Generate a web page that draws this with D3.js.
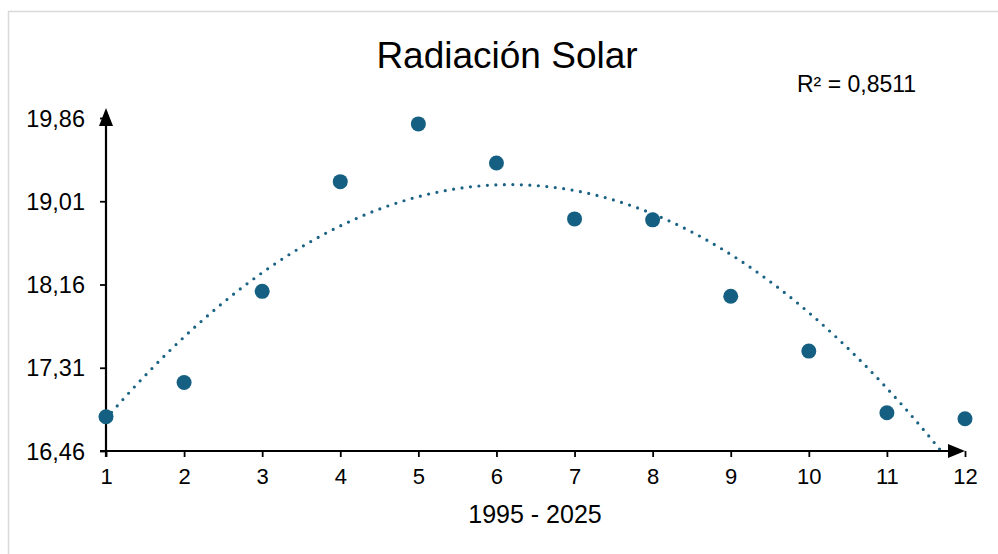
<!DOCTYPE html>
<html>
<head>
<meta charset="utf-8">
<script src="https://cdn.jsdelivr.net/npm/d3@7"></script>
<style>
  body { margin: 0; background: #fff; }
  text { font-family: "Liberation Sans", Arial, sans-serif; fill: #000; }
</style>
</head>
<body>
<div id="chart"></div>
<script>
// data
const months = [1, 2, 3, 4, 5, 6, 7, 8, 9, 10, 11, 12];
const radiation = [16.81, 17.16, 18.09, 19.21, 19.80, 19.40, 18.83, 18.82, 18.04, 17.48, 16.85, 16.79];
const yTicks = [16.46, 17.31, 18.16, 19.01, 19.86];
const titleText = "Radiación Solar";
const xTitle = "1995 - 2025";
const r2Text = "R² = 0,8511";

const width = 998, height = 554;
const margin = {top: 118, right: 33, bottom: 103, left: 106};
const font = "Liberation Sans, Arial, sans-serif";

var svg = d3.select("#chart")
  .append("svg")
    .attr("width", width)
    .attr("height", height);

// frame
svg.append("rect")
  .attr("x", 8.5).attr("y", 11.5)
  .attr("width", width + 20).attr("height", height + 20)
  .attr("fill", "none")
  .attr("stroke", "#d9d9d9")
  .attr("stroke-width", 1.5);

var x = d3.scaleLinear()
  .domain([1, 12])
  .range([margin.left, width - margin.right]);

var y = d3.scaleLinear()
  .domain([16.46, 19.86])
  .range([height - margin.bottom, margin.top]);

var fmt = function(v) { return d3.format(".2f")(v).replace(".", ","); };

svg.append("defs").append("clipPath").attr("id", "plotclip")
  .append("rect")
    .attr("x", margin.left).attr("y", margin.top - 10)
    .attr("width", width - margin.left - margin.right + 10)
    .attr("height", height - margin.top - margin.bottom + 10);

// quadratic trendline (least squares on the points)
var fitQuad = function(xs, ys) {
  var n = xs.length, s = [0, 0, 0, 0, 0], t = [0, 0, 0];
  for (var i = 0; i < n; i++) {
    for (var k = 0; k < 5; k++) s[k] += Math.pow(xs[i], k);
    for (var k = 0; k < 3; k++) t[k] += ys[i] * Math.pow(xs[i], k);
  }
  var A = [[s[0], s[1], s[2], t[0]], [s[1], s[2], s[3], t[1]], [s[2], s[3], s[4], t[2]]];
  for (var c = 0; c < 3; c++) {
    for (var r = c + 1; r < 3; r++) {
      var f = A[r][c] / A[c][c];
      for (var k = c; k < 4; k++) A[r][k] -= f * A[c][k];
    }
  }
  var b = [0, 0, 0];
  for (var r = 2; r >= 0; r--) {
    var v = A[r][3];
    for (var k = r + 1; k < 3; k++) v -= A[r][k] * b[k];
    b[r] = v / A[r][r];
  }
  return b;
};
var coef = fitQuad(months, radiation);
var trend = d3.range(1, 12.001, 0.05).map(function(m) {
  return [m, coef[0] + coef[1] * m + coef[2] * m * m];
});

svg.append("path")
  .datum(trend)
  .attr("clip-path", "url(#plotclip)")
  .attr("fill", "none")
  .attr("stroke", "#1a6385")
  .attr("stroke-width", 3.2)
  .attr("stroke-linecap", "round")
  .attr("stroke-dasharray", "0 8.5")
  .attr("d", d3.line()
    .x(function(d) { return x(d[0]); })
    .y(function(d) { return y(d[1]); }));

// axes
var xAxis = svg.append("g")
  .attr("transform", "translate(0," + y(16.46) + ")")
  .call(d3.axisBottom(x).tickValues(months).tickSize(6).tickSizeOuter(0).tickFormat(d3.format("d")));
xAxis.select(".domain").attr("stroke-width", 2.2).attr("d", "M" + (margin.left - 6) + ",0H" + (x(12) - 14));
xAxis.selectAll(".tick line").attr("stroke-width", 1.8).attr("y1", 0).attr("y2", 6);
xAxis.selectAll(".tick text").attr("dy", null).attr("y", 33)
  .style("font-size", "22px").style("font-family", font);

var yAxis = svg.append("g")
  .attr("transform", "translate(" + margin.left + ",0)")
  .call(d3.axisLeft(y).tickValues(yTicks).tickSize(6).tickSizeOuter(0).tickFormat(fmt));
yAxis.select(".domain").attr("stroke-width", 2.2).attr("d", "M0," + (y(16.46) + 6) + "V" + (margin.top + 6));
yAxis.selectAll(".tick line").attr("stroke-width", 1.8);
yAxis.selectAll(".tick text").attr("x", -21).attr("dy", "0.35em")
  .style("font-size", "23.5px").style("font-family", font);

// arrow heads
svg.append("path")
  .attr("d", "M" + (margin.left - 7) + "," + (margin.top + 8) + "L" + margin.left + "," + (margin.top - 10) + "L" + (margin.left + 7) + "," + (margin.top + 8) + "Z")
  .attr("fill", "#000");
svg.append("path")
  .attr("d", "M" + (x(12) - 17) + "," + (y(16.46) - 7) + "L" + x(12) + "," + y(16.46) + "L" + (x(12) - 17) + "," + (y(16.46) + 7) + "Z")
  .attr("fill", "#000");

// points
svg.append("g")
  .selectAll("circle")
  .data(months)
  .enter()
  .append("circle")
    .attr("cx", function(d) { return x(d); })
    .attr("cy", function(d, i) { return y(radiation[i]); })
    .attr("r", 7.5)
    .attr("fill", "#156082");

// texts
svg.append("text")
  .attr("x", 507).attr("y", 68)
  .attr("text-anchor", "middle")
  .style("font-size", "37px")
  .text(titleText);

svg.append("text")
  .attr("x", 797).attr("y", 92)
  .style("font-size", "23px")
  .text(r2Text);

svg.append("text")
  .attr("x", 535).attr("y", 523)
  .attr("text-anchor", "middle")
  .style("font-size", "25px")
  .text(xTitle);
</script>
</body>
</html>
